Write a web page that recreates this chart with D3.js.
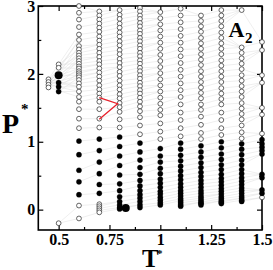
<!DOCTYPE html>
<html><head><meta charset="utf-8">
<script src="https://cdn.jsdelivr.net/npm/d3@7"></script>
<style>body{margin:0;background:#fff}svg{display:block}</style>
</head><body><svg id="c" width="273" height="270"></svg>
<script>
// ---- data (T*, P*) state points ----
const temps = [0.45, 0.5, 0.6, 0.7, 0.8, 0.9, 1.0, 1.1, 1.2, 1.3, 1.4, 1.5];
const open045 = [1.92, 1.88, 1.84, 1.80];
const fill045 = [];
const open050 = [2.14, 2.09, -0.2];
const fill050 = [1.87, 1.81, 1.74];
const open060 = [3.0, 2.90, 2.80, 2.69, 2.58, 2.50, 2.41, 2.36, 2.31, 2.27, 2.23, 2.19, 2.15, 2.11, 2.08, 2.04, 2.01, 1.98, 1.95, 1.91, 1.86, 1.81, 1.74, 1.66, 1.59, 1.48, 1.34, 1.20, 0.06, -0.13];
const fill060 = [1.01, 0.81, 0.58, 0.41, 0.22];
const open070 = [2.92, 2.86, 2.80, 2.74, 2.68, 2.62, 2.55, 2.49, 2.43, 2.37, 2.31, 2.25, 2.19, 2.14, 2.08, 2.02, 1.96, 1.90, 1.83, 1.77, 1.71, 1.65, 1.59, 1.48, 1.34, 1.21, 0.08, 0.05, 0.02, -0.01, -0.04];
const fill070 = [1.04, 0.87, 0.70, 0.53, 0.37, 0.24];
const open080 = [2.94, 2.87, 2.81, 2.74, 2.68, 2.61, 2.55, 2.48, 2.42, 2.35, 2.29, 2.22, 2.16, 2.10, 2.03, 1.97, 1.90, 1.83, 1.77, 1.70, 1.64, 1.57, 1.51, 1.44, 1.33, 1.21];
const fill080 = [1.07, 0.93, 0.79, 0.65, 0.51, 0.38, 0.28, 0.19, 0.12, 0.07, 0.03, 0.01];
const open090 = [2.97, 2.92, 2.86, 2.81, 2.75, 2.70, 2.64, 2.59, 2.53, 2.48, 2.42, 2.37, 2.31, 2.26, 2.20, 2.15, 2.09, 2.04, 1.98, 1.93, 1.87, 1.82, 1.76, 1.71, 1.65, 1.59, 1.52, 1.45, 1.36, 1.24, 1.11];
const fill090 = [0.98, 0.85, 0.73, 0.62, 0.52, 0.43, 0.35, 0.28, 0.22, 0.17, 0.12, 0.07, 0.03];
const open100 = [2.91, 2.82, 2.73, 2.64, 2.55, 2.46, 2.37, 2.28, 2.19, 2.10, 2.01, 1.92, 1.83, 1.74, 1.65, 1.56, 1.47, 1.39, 1.27, 1.15, 1.04];
const fill100 = [0.90, 0.79, 0.70, 0.61, 0.53, 0.45, 0.39, 0.33, 0.27, 0.23, 0.18, 0.14, 0.10, 0.07];
const open110 = [2.96, 2.86, 2.76, 2.66, 2.56, 2.46, 2.36, 2.26, 2.16, 2.06, 1.96, 1.86, 1.76, 1.66, 1.55, 1.43, 1.32, 1.20, 1.08];
const fill110 = [0.98, 0.89, 0.80, 0.72, 0.64, 0.57, 0.50, 0.44, 0.38, 0.33, 0.28, 0.24, 0.20, 0.16, 0.13, 0.10, 0.07, 0.05];
const open120 = [2.86, 2.78, 2.70, 2.62, 2.53, 2.45, 2.37, 2.29, 2.21, 2.13, 2.04, 1.96, 1.88, 1.80, 1.72, 1.64, 1.55, 1.47, 1.37, 1.25, 1.13, 1.04];
const fill120 = [0.94, 0.85, 0.77, 0.69, 0.62, 0.55, 0.49, 0.43, 0.38, 0.33, 0.28, 0.24, 0.20, 0.17, 0.14, 0.11, 0.09, 0.07];
const open130 = [2.94, 2.86, 2.78, 2.70, 2.61, 2.53, 2.45, 2.37, 2.29, 2.20, 2.12, 2.04, 1.96, 1.88, 1.79, 1.71, 1.63, 1.55, 1.43, 1.32, 1.20, 1.10];
const fill130 = [1.00, 0.91, 0.82, 0.74, 0.66, 0.59, 0.52, 0.46, 0.41, 0.36, 0.31, 0.27, 0.23, 0.19, 0.16, 0.13, 0.11, 0.09];
const open140 = [2.94, 2.39, 2.31, 2.23, 2.15, 2.07, 1.98, 1.90, 1.82, 1.74, 1.66, 1.57, 1.49, 1.41, 1.33, 1.24, 1.14, 1.05];
const fill140 = [0.97, 0.89, 0.81, 0.73, 0.66, 0.59, 0.53, 0.47, 0.42, 0.37, 0.32, 0.28, 0.24, 0.20, 0.17, 0.14, 0.12];
const open150 = [2.47, 2.35, 1.98, 1.87, 1.50, 1.40, 1.12, 0.18];
const fill150 = [1.03, 0.97, 0.92, 0.87, 0.82, 0.52, 0.47, 0.29, 0.24];
// large filled markers (T, P)
const bigT = [0.5, 0.83];
const bigP = [1.98, 0.025];
// red path
const redT = [0.70, 0.79, 0.70];
const redP = [1.65, 1.56, 1.33];
// ticks
const xMajor = [0.5, 0.75, 1, 1.25, 1.5];
const xLabels = ["0.5", "0.75", "1", "1.25", "1.5"];
const xMinor = [0.625, 0.875, 1.125, 1.375];
const yMajor = [0, 1, 2, 3];
const yLabels = ["0", "1", "2", "3"];
const yMinor = [0.5, 1.5, 2.5];

const openSets = [open045, open050, open060, open070, open080, open090, open100, open110, open120, open130, open140, open150];
const fillSets = [fill045, fill050, fill060, fill070, fill080, fill090, fill100, fill110, fill120, fill130, fill140, fill150];

const svg = d3.select('#c');
const L = 38.3, R = 262, T = 6, B = 230;
const x = d3.scaleLinear().domain([0.4, 1.5]).range([L, R]);
const y = d3.scaleLinear().domain([-0.3, 3]).range([B, T]);
const font = "'Liberation Serif','Times New Roman',serif";

// columns of points
const cols = temps.map((t, i) => {
  const pts = openSets[i].map(p => ({T: t, P: p, f: false}))
    .concat(fillSets[i].map(p => ({T: t, P: p, f: true})));
  pts.sort((a, b) => a.P - b.P);
  return pts;
});
bigT.forEach((t, i) => {
  const ci = temps.indexOf(t);
  if (ci >= 0) cols[ci].push({T: t, P: bigP[i], f: true});
});

// grey connecting lines
const segs = [];
function nearest(col, target) {
  let best = col[0];
  col.forEach(q => { if (Math.abs(q.P - target) < Math.abs(best.P - target)) best = q; });
  return best;
}
const i060 = temps.indexOf(0.6);
cols[0].forEach(p => [-0.1, 0.15, 0.4, 0.65].forEach(o => segs.push([p, nearest(cols[i060], p.P + o)])));
cols[1].forEach(p => [0.0, 0.2].forEach(o => segs.push([p, nearest(cols[i060], p.P + o)])));
for (let j = i060; j < cols.length - 1; j++) {
  cols[j].forEach(p => segs.push([p, nearest(cols[j + 1], p.P + 0.05)]));
}
svg.append('g').selectAll('line').data(segs).join('line')
  .attr('x1', d => x(d[0].T)).attr('y1', d => y(d[0].P))
  .attr('x2', d => x(d[1].T)).attr('y2', d => y(d[1].P))
  .attr('stroke', '#dedede').attr('stroke-width', 0.5);

// axes frame
svg.append('rect').attr('x', L).attr('y', T).attr('width', R - L).attr('height', B - T)
  .attr('fill', 'none').attr('stroke', '#000').attr('stroke-width', 1.6);

function styleAxis(g) {
  g.select('.domain').remove();
  g.selectAll('.tick line').attr('stroke', '#000').attr('stroke-width', 1.2);
  g.selectAll('text').attr('font-family', font).attr('font-weight', 'bold')
    .attr('font-size', 16).attr('fill', '#000');
}
svg.append('g').attr('transform', `translate(0,${B})`)
  .call(d3.axisBottom(x).tickValues(xMajor).tickSize(-5).tickPadding(4).tickFormat((d, i) => xLabels[i])).call(styleAxis);
svg.append('g').attr('transform', `translate(0,${B})`)
  .call(d3.axisBottom(x).tickValues(xMinor).tickSize(-3).tickFormat('')).call(styleAxis);
svg.append('g').attr('transform', `translate(0,${T})`)
  .call(d3.axisTop(x).tickValues(xMajor).tickSize(-5).tickFormat('')).call(styleAxis);
svg.append('g').attr('transform', `translate(0,${T})`)
  .call(d3.axisTop(x).tickValues(xMinor).tickSize(-3).tickFormat('')).call(styleAxis);
svg.append('g').attr('transform', `translate(${L},0)`)
  .call(d3.axisLeft(y).tickValues(yMajor).tickSize(-5).tickPadding(3).tickFormat((d, i) => yLabels[i])).call(styleAxis);
svg.append('g').attr('transform', `translate(${L},0)`)
  .call(d3.axisLeft(y).tickValues(yMinor).tickSize(-3).tickFormat('')).call(styleAxis);
svg.append('g').attr('transform', `translate(${R},0)`)
  .call(d3.axisRight(y).tickValues(yMajor).tickSize(-5).tickFormat('')).call(styleAxis);
svg.append('g').attr('transform', `translate(${R},0)`)
  .call(d3.axisRight(y).tickValues(yMinor).tickSize(-3).tickFormat('')).call(styleAxis);

// points
const allPts = [];
temps.forEach((t, i) => {
  openSets[i].forEach(p => allPts.push({T: t, P: p, f: false}));
  fillSets[i].forEach(p => allPts.push({T: t, P: p, f: true}));
});
svg.append('g').selectAll('circle').data(allPts).join('circle')
  .attr('cx', d => x(d.T)).attr('cy', d => y(d.P))
  .attr('r', d => d.f ? 2.6 : 2.4)
  .attr('fill', d => d.f ? '#000' : '#fff')
  .attr('stroke', d => d.f ? '#000' : '#333')
  .attr('stroke-width', d => d.f ? 0.3 : 0.75);
svg.append('g').selectAll('circle').data(bigT.map((t, i) => ({T: t, P: bigP[i]}))).join('circle')
  .attr('cx', d => x(d.T)).attr('cy', d => y(d.P)).attr('r', 4).attr('fill', '#000');

// red path
svg.append('path').datum(redT.map((t, i) => [t, redP[i]]))
  .attr('d', d3.line().x(d => x(d[0])).y(d => y(d[1])))
  .attr('fill', 'none').attr('stroke', '#e8202a').attr('stroke-width', 1.3);

// labels
function txt(s, px, py, size) {
  return svg.append('text').attr('x', px).attr('y', py).text(s)
    .attr('font-family', font).attr('font-weight', 'bold').attr('font-size', size).attr('fill', '#000');
}
txt('P', 2, 133, 28);
txt('*', 21, 114, 15);
txt('T', 142, 267, 25);
txt('*', 157, 257, 11);
txt('A', 228.5, 36.7, 22);
txt('2', 245, 43.3, 15);
</script>
</body></html>
